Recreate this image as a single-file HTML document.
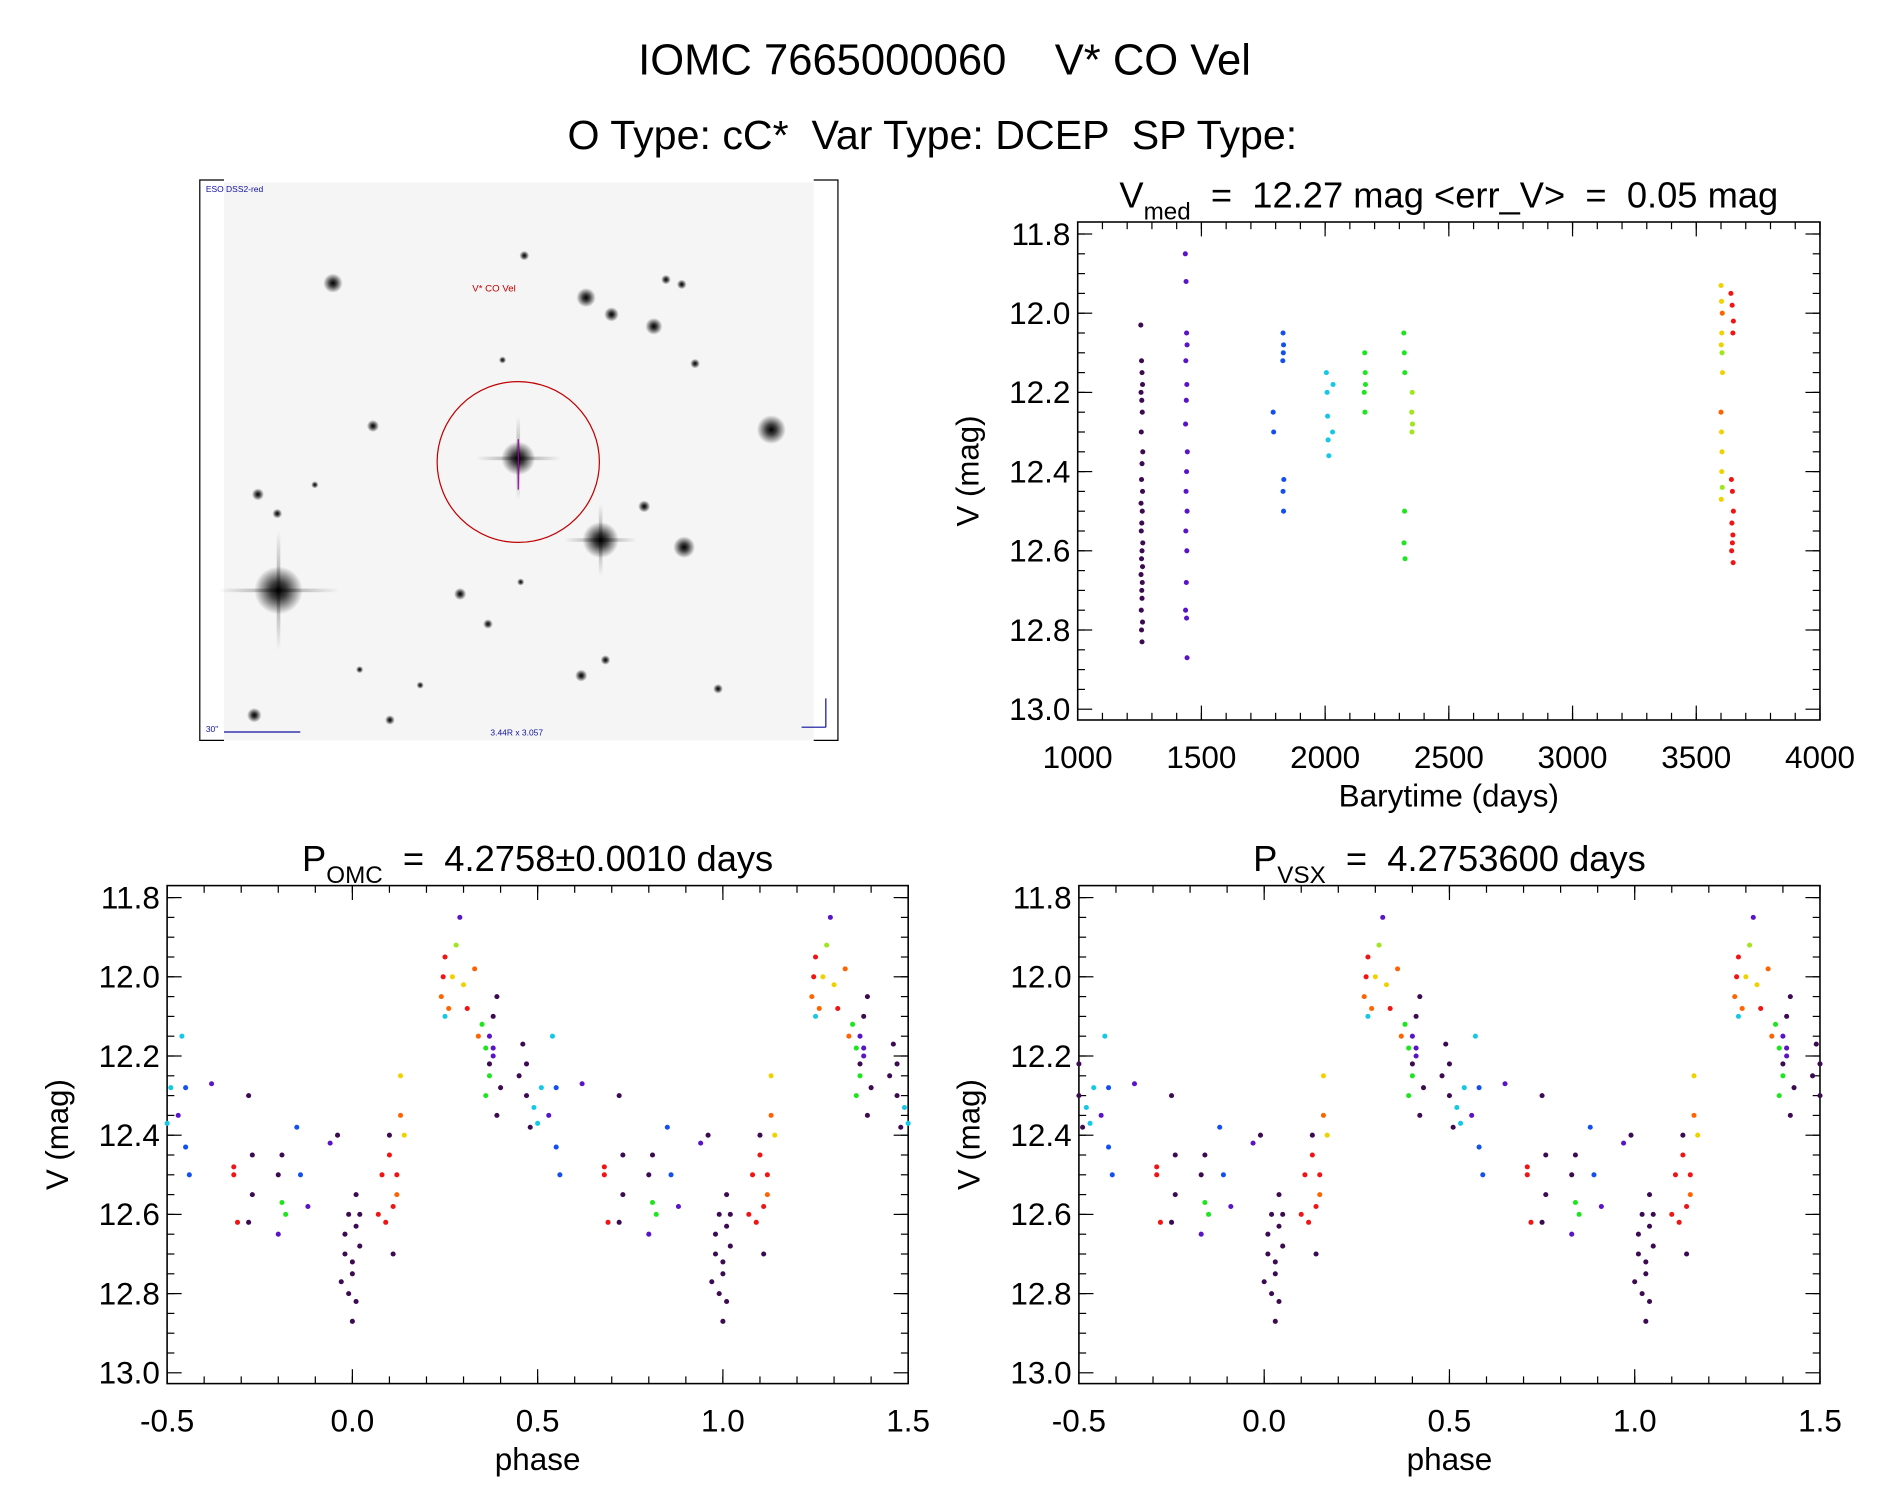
<!DOCTYPE html>
<html><head><meta charset="utf-8"><style>
html,body{margin:0;padding:0;background:#fff;}
svg{display:block;}
text{font-family:"Liberation Sans",sans-serif;fill:#000;white-space:pre;}
</style></head><body>
<svg id="root" width="1889" height="1494" viewBox="0 0 1560 1245" preserveAspectRatio="none" xmlns="http://www.w3.org/2000/svg">
<defs>
<radialGradient id="star"><stop offset="0" stop-color="#000" stop-opacity="1"/><stop offset="0.35" stop-color="#000" stop-opacity="0.75"/><stop offset="1" stop-color="#000" stop-opacity="0"/></radialGradient>
<linearGradient id="spikeH"><stop offset="0" stop-color="#000" stop-opacity="0"/><stop offset="0.5" stop-color="#000" stop-opacity="0.35"/><stop offset="1" stop-color="#000" stop-opacity="0"/></linearGradient>
<linearGradient id="spikeV" x1="0" y1="0" x2="0" y2="1"><stop offset="0" stop-color="#000" stop-opacity="0"/><stop offset="0.5" stop-color="#000" stop-opacity="0.35"/><stop offset="1" stop-color="#000" stop-opacity="0"/></linearGradient>
</defs>
<text x="780" y="62" font-size="36" text-anchor="middle" xml:space="preserve">IOMC 7665000060    V* CO Vel</text>
<text x="770" y="124" font-size="34" text-anchor="middle" xml:space="preserve">O Type: cC*  Var Type: DCEP  SP Type:</text>
<g id="sky">
<rect x="185" y="152" width="487" height="465" fill="#f5f5f5"/>
<path d="M185 150 L165 150 L165 617 L185 617 M672 150 L692 150 L692 617 L672 617" fill="none" stroke="#000" stroke-width="1"/>
<text x="170" y="160" font-size="7" style="fill:#1010a0">ESO DSS2-red</text>
<text x="390" y="243" font-size="8" style="fill:#c00000">V* CO Vel</text>
<text x="405" y="613" font-size="7" style="fill:#1010a0">3.44R x 3.057</text>
<line x1="185" y1="610" x2="248" y2="610" stroke="#1010a0"/>
<text x="170" y="610" font-size="7" style="fill:#1010a0">30"</text>
<path d="M682 606 L682 582 M682 606 L662 606" stroke="#1010a0" fill="none"/>
<g id="stars"></g>
<circle cx="428" cy="385" r="67" fill="none" stroke="#c00000" stroke-width="1"/>
<line x1="428" y1="366" x2="428" y2="408" stroke="#a000a0" stroke-width="1"/>
</g>
<g id="ts"></g>
<g id="pl"></g>
<g id="pr"></g>
</svg>
<script>
// ---- data ----
const obsT=[1255,1258,1260,1262,1256,1259,1261,1257,1263,1260,1258,1262,1256,1261,1259,1257,1263,1260,1258,1262,1256,1261,1259,1260,1257,1262,1258,1260,
1435,1438,1440,1442,1437,1441,1439,1436,1443,1440,1438,1442,1437,1441,1439,1436,1440,1442,
1790,1792,1830,1832,1831,1829,1833,1830,1832,
2005,2008,2010,2012,2015,2030,2032,
2160,2162,2158,2161,2163,
2318,2320,2322,2321,2319,2323,2352,2350,2353,2351,
3600,3602,3605,3603,3601,3604,3606,3600,3602,3604,3603,3605,3601,
3640,3645,3650,3648,3642,3646,3650,3644,3648,3646,3643,3649];
const obsV=[12.03,12.12,12.15,12.18,12.2,12.22,12.25,12.3,12.35,12.38,12.42,12.45,12.48,12.5,12.53,12.55,12.58,12.6,12.62,12.64,12.66,12.68,12.7,12.72,12.75,12.78,12.8,12.83,
11.85,11.92,12.05,12.08,12.12,12.18,12.22,12.28,12.35,12.4,12.45,12.5,12.55,12.6,12.68,12.75,12.77,12.87,
12.25,12.3,12.05,12.08,12.1,12.12,12.42,12.45,12.5,
12.15,12.2,12.26,12.32,12.36,12.3,12.18,
12.1,12.15,12.2,12.25,12.18,
12.05,12.1,12.15,12.5,12.58,12.62,12.2,12.25,12.28,12.3,
11.93,11.97,12.0,12.05,12.08,12.1,12.15,12.25,12.3,12.35,12.4,12.44,12.47,
11.95,11.98,12.02,12.05,12.42,12.45,12.5,12.53,12.56,12.58,12.6,12.63];
const obsC=[0,0,0,0,0,0,0,0,0,0,0,0,0,0,0,0,0,0,0,0,0,0,0,0,0,0,0,0,
1,1,1,1,1,1,1,1,1,1,1,1,1,1,1,1,1,1,
2,2,2,2,2,2,2,2,2,
3,3,3,3,3,3,3,
4,4,4,4,4,
4,4,4,4,4,4,5,5,5,5,
6,6,7,6,6,5,6,7,6,6,6,5,6,
8,8,8,8,8,8,8,8,8,8,8,8];
const phs=[0.24,0.245,0.25,0.26,0.25,0.27,0.28,0.29,0.30,0.31,0.33,0.34,0.36,0.37,0.38,0.38,0.39,0.40,0.36,0.37,0.39,0.35,0.37,0.38,
0.46,0.47,0.48,0.49,0.50,0.51,0.53,0.54,0.55,0.55,0.56,0.45,0.47,
0.62,0.68,0.69,0.68,0.72,0.73,0.73,0.72,
0.80,0.81,0.82,0.80,0.85,0.86,0.88,0.81,
0.94,0.97,0.98,0.99,0.00,0.01,0.00,0.02,0.99,0.01,0.96,0.98,0.00,0.02,0.01,
0.07,0.08,0.09,0.10,0.11,0.12,0.13,0.13,0.14,0.10,0.12,0.11];
const phV=[12.05,12.0,11.95,12.08,12.1,12.0,11.92,11.85,12.02,12.08,11.98,12.15,12.18,12.25,12.1,12.2,12.05,12.28,12.3,12.15,12.35,12.12,12.22,12.18,
12.17,12.3,12.38,12.33,12.37,12.28,12.35,12.15,12.28,12.43,12.5,12.25,12.22,
12.27,12.5,12.62,12.48,12.3,12.45,12.55,12.62,
12.5,12.57,12.6,12.65,12.38,12.5,12.58,12.45,
12.42,12.77,12.65,12.6,12.72,12.55,12.87,12.68,12.8,12.63,12.4,12.7,12.75,12.6,12.82,
12.6,12.5,12.62,12.45,12.7,12.55,12.35,12.25,12.4,12.4,12.5,12.58];
const phC=[7,8,8,7,3,6,5,1,6,8,7,7,4,4,0,1,0,0,4,1,0,4,0,1,
0,0,0,3,3,3,1,3,2,2,2,0,0,
1,8,8,8,0,0,0,0,
0,4,4,1,2,2,1,0,
1,0,0,0,0,0,0,0,0,0,0,0,0,0,0,
8,8,8,8,0,7,7,6,6,0,8,8];
const yTicks=[11.8,12.0,12.2,12.4,12.6,12.8,13.0];
const tTicks=[1000,1500,2000,2500,3000,3500,4000];
const pTicks=[-0.5,0.0,0.5,1.0,1.5];
const vsxShift=0.03;
const palette=['#3c0a50','#5a14c8','#1450f0','#14c8e6','#1ee61e','#a0e61e','#f0d200','#ff6400','#f01414'];

const NS='http://www.w3.org/2000/svg';
function mk(tag,attrs,parent){const e=document.createElementNS(NS,tag);for(const k in attrs)e.setAttribute(k,attrs[k]);parent.appendChild(e);return e;}

// stars
const starsG=document.getElementById('stars');
[[230,492,20],[428,382,14],[496,450,15],[637,358,12],[565,456,9],[484,248,8],[540,272,7],[275,236,8],[505,262,6],[210,596,6],[308,355,5],[213,412,5],[532,422,5],[563,237,4],[550,233,4],[380,495,5],[480,563,5],[500,550,4],[322,600,4],[403,520,4],[433,213,4],[229,428,4],[574,303,4],[415,300,3],[297,558,3],[430,485,3],[593,574,4],[260,404,3],[347,571,3]].forEach(s=>{
 const c=mk('circle',{cx:s[0],cy:s[1],r:s[2],fill:'url(#star)'},starsG);
 
 
});
[[230,492,50],[428,382,35],[496,450,30]].forEach(s=>{
 mk('rect',{x:s[0]-s[2],y:s[1]-1.5,width:2*s[2],height:3,fill:'url(#spikeH)'},starsG);
 mk('rect',{x:s[0]-1.5,y:s[1]-s[2],width:3,height:2*s[2],fill:'url(#spikeV)'},starsG);
});

function panel(g,box,xd,xt,xfmt,xlab,title){
 const [x0,y0,x1,y1]=box;
 const sx=v=>x0+(v-xd[0])/(xd[1]-xd[0])*(x1-x0);
 const yTop=y0+10,yBot=y1-9;
 const sy=v=>yTop+(v-11.8)/(13.0-11.8)*(yBot-yTop);
 const r=mk('rect',{x:x0,y:y0,width:x1-x0,height:y1-y0,fill:'none',stroke:'#000','stroke-width':1.3},g);
 
 
 yTicks.forEach(v=>{const y=sy(v);
  mk('line',{x1:x0,y1:y,x2:x0+12,y2:y,stroke:'#000'},g);mk('line',{x1:x1,y1:y,x2:x1-12,y2:y,stroke:'#000'},g);
  const t=mk('text',{x:x0-6,y:y+9,'font-size':26,'text-anchor':'end'},g);t.textContent=v.toFixed(1);
  
  
 });
 for(let v=11.8;v<=13.0;v+=0.05){const y=sy(v);mk('line',{x1:x0,y1:y,x2:x0+6,y2:y,stroke:'#000'},g);mk('line',{x1:x1,y1:y,x2:x1-6,y2:y,stroke:'#000'},g);}
 xt.forEach(v=>{const x=sx(v);
  mk('line',{x1:x,y1:y1,x2:x,y2:y1-12,stroke:'#000'},g);mk('line',{x1:x,y1:y0,x2:x,y2:y0+12,stroke:'#000'},g);
  const t=mk('text',{x:x,y:y1+40,'font-size':26,'text-anchor':'middle'},g);t.textContent=xfmt(v);
  
  
 });
 const step=(xt[1]-xt[0])/5;
 for(let v=xt[0];v<=xt[xt.length-1]+1e-9;v+=step){const x=sx(v);mk('line',{x1:x,y1:y1,x2:x,y2:y1-6,stroke:'#000'},g);mk('line',{x1:x,y1:y0,x2:x,y2:y0+6,stroke:'#000'},g);}
 const xl=mk('text',{x:(x0+x1)/2,y:y1+72,'font-size':26,'text-anchor':'middle'},g);xl.textContent=xlab;
 
 
 const yl=mk('text',{x:0,y:0,'font-size':26,'text-anchor':'middle',transform:`translate(${x0-82},${(y0+y1)/2}) rotate(-90)`},g);yl.textContent='V (mag)';
 
 
 const tt=mk('text',{x:(x0+x1)/2,y:y0-12,'font-size':30,'text-anchor':'middle'},g);tt.innerHTML=title;
 
 
 return {sx,sy};
}
function dot(g,x,y,c){const d=mk('circle',{cx:x,cy:y,r:2.1,fill:palette[c]},g);
 
 }

// time series
const gts=document.getElementById('ts');
const A=panel(gts,[890,185,1503,600],[1000,4000],tTicks,v=>String(v),'Barytime (days)','V<tspan font-size="20" dy="10">med</tspan><tspan dy="-10">  =  12.27 mag &lt;err_V&gt;  =  0.05 mag</tspan>');
obsT.forEach((t,i)=>dot(gts,A.sx(t),A.sy(obsV[i]),obsC[i]));

function phasePanel(id,box,title,shift){
 const g=document.getElementById(id);
 const P=panel(g,box,[-0.5,1.5],pTicks,v=>v.toFixed(1),'phase',title);
 phs.forEach((p,i)=>{let q=(p+shift)%1;for(const k of [-1,0,1]){const ph=q+k;if(ph>=-0.5&&ph<=1.5)dot(g,P.sx(ph),P.sy(phV[i]),phC[i]);}});
}
phasePanel('pl',[138,738,750,1153],'P<tspan font-size="20" dy="10">OMC</tspan><tspan dy="-10">  =  4.2758±0.0010 days</tspan>',0);
phasePanel('pr',[891,738,1503,1153],'P<tspan font-size="20" dy="10">VSX</tspan><tspan dy="-10">  =  4.2753600 days</tspan>',vsxShift);
</script>
</body></html>
